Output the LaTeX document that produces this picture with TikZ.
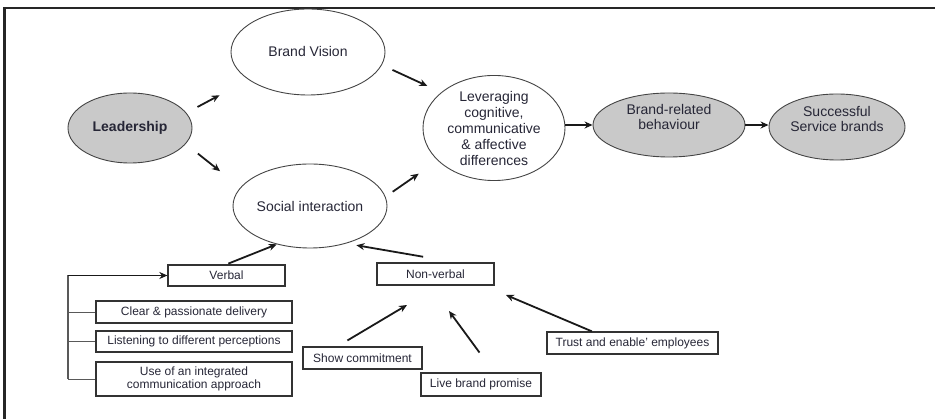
\documentclass[tikz,border=0pt]{standalone}
\usepackage{fontspec}
\setmainfont{Liberation Sans}
\usetikzlibrary{shapes.geometric,arrows.meta,calc}
\definecolor{txtc}{HTML}{262636}
\definecolor{fillg}{HTML}{C9C9C9}
\definecolor{edgec}{HTML}{444444}
\newcommand\liftup[1]{\raisebox{6pt}[\height][\depth]{\def\arraystretch{0.85}\begin{tabular}{@{}c@{}}#1\end{tabular}}}
\tikzset{
  ell/.style={ellipse, draw=edgec, line width=0.9pt, inner sep=0pt, align=center, text=txtc,
    font=\fontsize{14pt}{16pt}\selectfont},
  gell/.style={ell, fill=fillg},
  bx/.style={draw=black!80, line width=1.3pt, inner sep=0pt, align=center, text=txtc,
    font=\fontsize{12pt}{13pt}\selectfont},
  arr/.style={line width=1.8pt, black!90, -{Stealth[length=8pt,width=7pt]}},
  brk/.style={line width=0.9pt, black!65},
  frame/.style={line width=2.5pt, black!85},
}
\begin{document}
\begin{tikzpicture}[x=1pt,y=-1pt]
\useasboundingbox (0,0) rectangle (935,419);
\draw[frame] (4.5,419) -- (4.5,8) -- (935,8);

% ellipses
\node[gell, minimum width=124pt, minimum height=70pt] (lead) at (130,128) {\textbf{Leadership}};
\node[ell, minimum width=154pt, minimum height=86pt] (bv) at (308,52) {Brand Vision};
\node[ell, minimum width=154pt, minimum height=84pt] (social) at (310,206) {Social interaction};
\node[ell, minimum width=142pt, minimum height=102pt] (lev) at (494,128)
  {Leveraging\\cognitive,\\communicative\\\& affective\\differences};
\node[gell, minimum width=152pt, minimum height=64pt] (br) at (669,125) {\liftup{Brand-related\\behaviour}};
\node[gell, minimum width=136pt, minimum height=66pt] (succ) at (837,127) {\liftup{Successful\\Service brands}};

% boxes
\node[bx, minimum width=117pt, minimum height=21pt] (verbal) at (226.5,275.5) {Verbal};
\node[bx, minimum width=196pt, minimum height=22pt] (clear) at (194,312) {Clear \& passionate delivery};
\node[bx, minimum width=196pt, minimum height=21pt] (listen) at (194,341.5) {Listening to different perceptions};
\node[bx, minimum width=196pt, minimum height=34pt] (use) at (194,379) {Use of an integrated\\communication approach};
\node[bx, minimum width=117pt, minimum height=22pt] (nv) at (435.5,274) {Non-verbal};
\node[bx, minimum width=119pt, minimum height=22pt] (show) at (362.5,358) {Show commitment};
\node[bx, minimum width=120pt, minimum height=23pt] (live) at (481,384.5) {Live brand promise};
\node[bx, minimum width=171pt, minimum height=22pt] (trust) at (632.5,343) {Trust and enable' employees};

% main flow
\draw[arr, shorten <=12.5pt, shorten >=32.8pt] (lead.15.2) -- (bv.205.3);
\draw[arr, shorten <=11.7pt, shorten >=15.2pt] (bv.-10) -- (lev.146.5);
\draw[arr, shorten <=15.5pt, shorten >=26pt] (lead.-16.8) -- (social.165.5);
\draw[arr, shorten <=8.7pt, shorten >=23pt] (social.7.9) -- (lev.210.8);
\draw[arr] (lev.east |- br.west) -- (br.west);
\draw[arr] (br.east) -- (br.east -| succ.west);

% interaction inputs
\draw[arr, shorten <=2pt] (verbal.north) -- (social.-131);
\draw[arr, shorten <=33pt, shorten >=10.3pt] (nv.30.7) -- (social.-46);

% non-verbal inputs
\coordinate (showtip) at (407,305);
\coordinate (livetip) at (449,311);
\coordinate (trusttip) at (506,295);
\draw[arr, shorten <=11.5pt] (show.155.8) -- (showtip);
\draw[arr, shorten <=24.6pt] (live.43) -- (livetip);
\draw[arr] (trust.164.4) -- (trusttip);

% verbal bracket
\coordinate (bx) at (68,0);
\draw[brk, line width=1.3pt] (bx |- verbal.west) -- (bx |- use.west);
\draw[arr, line width=1.5pt] (bx |- verbal.west) -- (verbal.west);
\draw[brk] (bx |- clear.west) -- (clear.west);
\draw[brk] (bx |- listen.west) -- (listen.west);
\draw[brk] (bx |- use.west) -- (use.west);
\end{tikzpicture}
\end{document}
